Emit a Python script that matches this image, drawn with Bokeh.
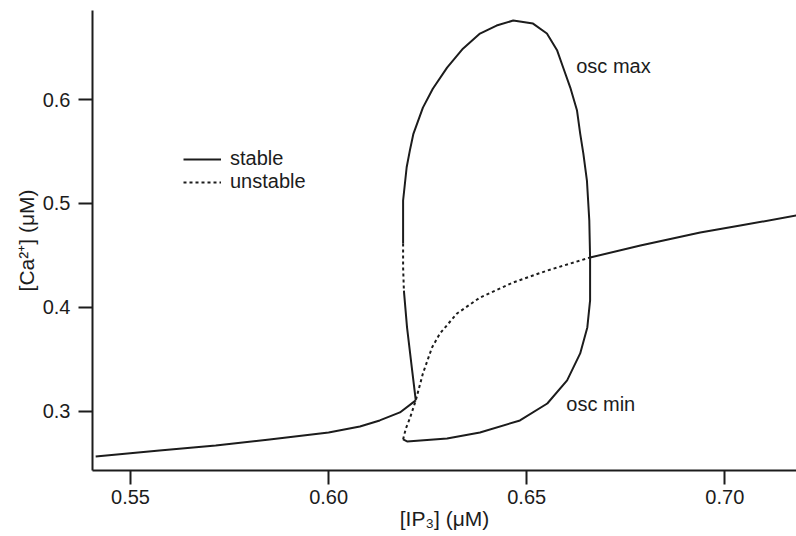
from bokeh.plotting import figure
from bokeh.models import Range1d, FixedTicker, Legend, LegendItem, Label
from bokeh.embed import file_html
from bokeh.resources import INLINE

# ---- data ----
x_ticks = [0.55, 0.60, 0.65, 0.70]
x_tick_labels = ["0.55", "0.60", "0.65", "0.70"]
y_ticks = [0.3, 0.4, 0.5, 0.6]
y_tick_labels = ["0.3", "0.4", "0.5", "0.6"]

# stable steady state, lower branch
lower_stable_x = [0.5412, 0.5573, 0.5715, 0.5851, 0.6000, 0.6079, 0.6129, 0.6180, 0.6220]
lower_stable_y = [0.2564, 0.2622, 0.2670, 0.2728, 0.2795, 0.2853, 0.2911, 0.2988, 0.3104]

# unstable steady state
unstable_ss_x = [0.6188, 0.6195, 0.6205, 0.6220, 0.6238, 0.6261, 0.6281, 0.6324, 0.6382, 0.6466, 0.6552, 0.6660]
unstable_ss_y = [0.2728, 0.2834, 0.2930, 0.3104, 0.3363, 0.3613, 0.3748, 0.3940, 0.4094, 0.4239, 0.4354, 0.4479]

# stable steady state, upper branch
upper_stable_x = [0.6660, 0.6787, 0.6938, 0.7039, 0.7181]
upper_stable_y = [0.4479, 0.4595, 0.4720, 0.4787, 0.4884]

# oscillation maximum (stable part)
osc_max_x = [0.6660, 0.6658, 0.6655, 0.6652, 0.6643, 0.6635, 0.6627, 0.6610, 0.6592, 0.6577,
             0.6551, 0.6516, 0.6466, 0.6424, 0.6382, 0.6339, 0.6299, 0.6263, 0.6238,
             0.6214, 0.6205, 0.6197, 0.6188, 0.6188]
osc_max_y = [0.4479, 0.4834, 0.5028, 0.5220, 0.5480, 0.5672, 0.5894, 0.6115, 0.6308, 0.6471,
             0.6635, 0.6731, 0.6760, 0.6712, 0.6635, 0.6489, 0.6307, 0.6104, 0.5922,
             0.5670, 0.5508, 0.5348, 0.5028, 0.4614]

# unstable periodic segment
unstable_po_x = [0.6188, 0.6188, 0.6190]
unstable_po_y = [0.4614, 0.4390, 0.4161]

# stable periodic segment down to the fold
stable_po_x = [0.6190, 0.6198, 0.6210, 0.6220]
stable_po_y = [0.4161, 0.3805, 0.3420, 0.3104]

# oscillation minimum
osc_min_x = [0.6188, 0.6198, 0.6299, 0.6382, 0.6483, 0.6552, 0.6602, 0.6635, 0.6653, 0.6660, 0.6660]
osc_min_y = [0.2728, 0.2709, 0.2738, 0.2795, 0.2911, 0.3074, 0.3296, 0.3556, 0.3806, 0.4066, 0.4479]

FONT = "Liberation Sans"
INK = "#1c1c1c"

p = figure(width=796, height=536, output_backend="svg", toolbar_location=None,
           x_range=Range1d(0.5404, 0.7181), y_range=Range1d(0.2429, 0.6857),
           min_border_left=92, min_border_right=0, min_border_top=10, min_border_bottom=66)
p.outline_line_color = None
p.xgrid.visible = False
p.ygrid.visible = False
p.background_fill_color = "white"
p.border_fill_color = "white"

lw = 2
r_stable = p.line(lower_stable_x, lower_stable_y, line_color=INK, line_width=lw, line_join="round")
r_unst = p.line(unstable_ss_x, unstable_ss_y, line_color=INK, line_width=lw, line_dash="3 3")
p.line(upper_stable_x, upper_stable_y, line_color=INK, line_width=lw, line_join="round")
p.line(osc_max_x, osc_max_y, line_color=INK, line_width=lw, line_join="round")
p.line(unstable_po_x, unstable_po_y, line_color=INK, line_width=lw, line_dash="3 3")
p.line(stable_po_x, stable_po_y, line_color=INK, line_width=lw, line_join="round")
p.line(osc_min_x, osc_min_y, line_color=INK, line_width=lw, line_join="round")

for ax, ticks, labels in ((p.xaxis, x_ticks, x_tick_labels), (p.yaxis, y_ticks, y_tick_labels)):
    ax.ticker = FixedTicker(ticks=ticks)
    ax.major_label_overrides = {t: l for t, l in zip(ticks, labels)}
    ax.minor_tick_line_color = None
    ax.major_tick_in = 0
    ax.major_tick_out = 14
    ax.major_tick_line_width = 2
    ax.major_tick_line_color = INK
    ax.axis_line_width = 2
    ax.axis_line_color = INK
    ax.major_label_text_font = FONT
    ax.major_label_text_font_size = "20px"
    ax.major_label_text_color = INK
    ax.axis_label_text_font = FONT
    ax.axis_label_text_font_size = "21px"
    ax.axis_label_text_font_style = "normal"
    ax.axis_label_text_color = INK

p.xaxis.axis_label = "[IP₃] (μM)"
p.yaxis.axis_label = "[Ca²⁺] (μM)"
p.xaxis.major_label_standoff = 5
p.xaxis.axis_label_standoff = 0
p.yaxis.major_label_standoff = 8
p.yaxis.axis_label_standoff = 2

legend = Legend(items=[LegendItem(label="stable", renderers=[r_stable]),
                       LegendItem(label="unstable", renderers=[r_unst])],
                location=(91, 277), orientation="vertical",
                glyph_width=38, glyph_height=20, label_height=20, label_standoff=9,
                spacing=0, padding=0, margin=0,
                border_line_color=None, background_fill_alpha=0,
                label_text_font=FONT, label_text_font_size="20px", label_text_color=INK)
p.add_layout(legend)

p.add_layout(Label(x=0.6625, y=0.6327, text="osc max", text_baseline="middle",
                   text_font=FONT, text_font_size="20px", text_color=INK))
p.add_layout(Label(x=0.6600, y=0.3065, text="osc min", text_baseline="middle",
                   text_font=FONT, text_font_size="20px", text_color=INK))

open("out.html", "w").write(file_html(p, INLINE))
